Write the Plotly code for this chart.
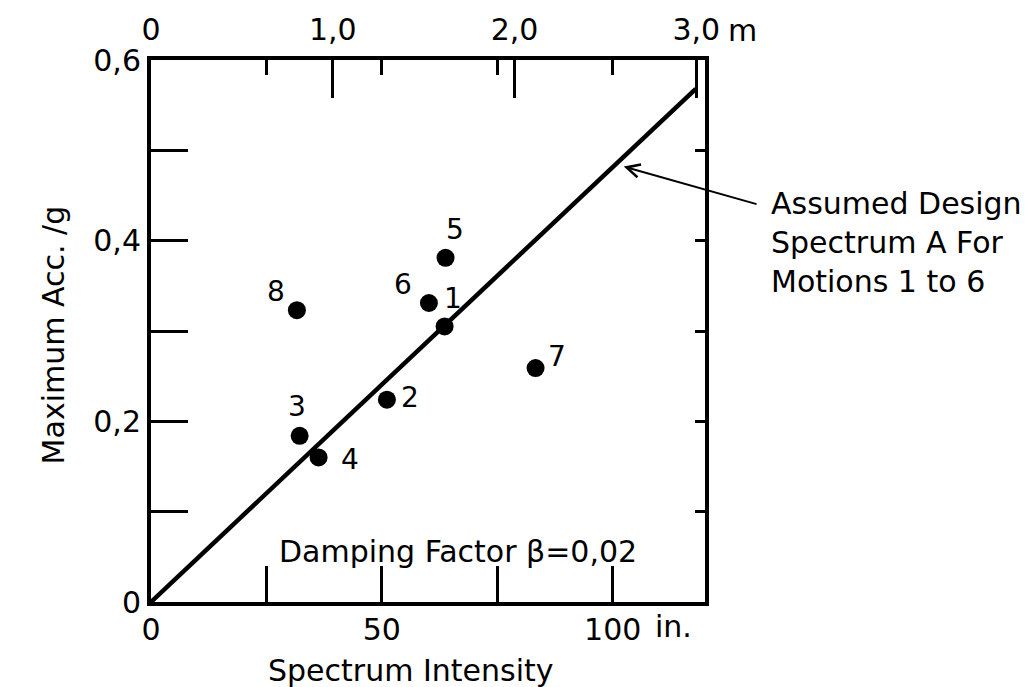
import plotly.graph_objects as go

# ---------------- data ----------------
motion_ids = ["1", "2", "3", "4", "5", "6", "7", "8"]
spectrum_intensity_in = [63.6, 51.1, 32.2, 36.3, 63.8, 60.2, 83.3, 31.6]
max_acc_g = [0.305, 0.224, 0.184, 0.160, 0.381, 0.331, 0.259, 0.323]

design_line_si = [0, 118]
design_line_acc = [0, 0.568]

x_ticks_in = [0, 25, 50, 75, 100]
x_tick_text = ["0", "", "50", "", "100"]
y_ticks = [0, 0.1, 0.2, 0.3, 0.4, 0.5, 0.6]
y_tick_text = ["0", "", "0,2", "", "0,4", "", "0,6"]
top_ticks_m = [0, 1, 2, 3]
top_tick_text = ["0", "1,0", "2,0", "3,0"]

IN_PER_M = 39.37
X_MAX_IN = 120
Y_MAX = 0.6

# label offsets (px) for the motion numbers
label_dx = [8, 23, -3, 31, 9, -26, 21, -21]
label_dy = [28, 2, 29, -2, 28, 19, 12, 19]

FONT = "DejaVu Sans"
FS = 30
FS_LBL = 28
BLACK = "#000000"

fig = go.Figure()

fig.add_trace(go.Scatter(
    x=design_line_si, y=design_line_acc, mode="lines",
    line=dict(color=BLACK, width=4.5), showlegend=False, hoverinfo="skip"))

fig.add_trace(go.Scatter(
    x=spectrum_intensity_in, y=max_acc_g, mode="markers",
    marker=dict(color=BLACK, size=18, line=dict(width=0)),
    showlegend=False))

# invisible trace to activate top/right axes
fig.add_trace(go.Scatter(
    x=[None], y=[None], xaxis="x2", yaxis="y2", mode="markers",
    showlegend=False, hoverinfo="skip"))

for mid, xv, yv, dx, dy in zip(motion_ids, spectrum_intensity_in, max_acc_g, label_dx, label_dy):
    fig.add_annotation(x=xv, y=yv, xref="x", yref="y", text=mid, showarrow=False,
                       xshift=dx, yshift=dy, font=dict(family=FONT, size=FS_LBL, color=BLACK))

# arrow to design line
fig.add_annotation(x=102.4, y=0.482, xref="x", yref="y", ax=131.5, ay=0.44,
                   axref="x", ayref="y", text="", showarrow=True, arrowhead=5,
                   arrowsize=1.3, arrowwidth=2, arrowcolor=BLACK)

fig.add_annotation(x=1.1155, y=0.663, xref="paper", yref="paper", xanchor="left", yanchor="middle",
                   align="left", showarrow=False,
                   text="Assumed Design<br>Spectrum A For<br>Motions 1 to 6",
                   font=dict(family=FONT, size=FS, color=BLACK))

fig.add_annotation(x=66.4, y=0.056, xref="x", yref="y", showarrow=False,
                   text="Damping Factor \u03b2=0,02",
                   font=dict(family=FONT, size=FS, color=BLACK))

fig.add_annotation(x=56.2, y=-0.127, xref="x", yref="paper", showarrow=False,
                   text="Spectrum Intensity", yanchor="middle",
                   font=dict(family=FONT, size=FS, color=BLACK))

fig.add_annotation(x=-0.212, y=0.492, xref="paper", yref="paper", showarrow=False,
                   text="Maximum Acc. /g", textangle=-90,
                   font=dict(family=FONT, size=FS, color=BLACK))

# unit suffixes on tick labels
fig.add_annotation(x=100, y=0, xref="x", yref="paper", yanchor="top", xanchor="left",
                   xshift=40, yshift=-5, showarrow=False, text="in.",
                   font=dict(family=FONT, size=FS, color=BLACK))
fig.add_annotation(x=3 * IN_PER_M, y=1, xref="x", yref="paper", yanchor="bottom", xanchor="left",
                   xshift=30, yshift=10, showarrow=False, text="m",
                   font=dict(family=FONT, size=FS, color=BLACK))

axis_common = dict(showgrid=False, zeroline=False, showline=True, linecolor=BLACK,
                   linewidth=4, tickcolor=BLACK, tickwidth=3,
                   tickfont=dict(family=FONT, size=FS, color=BLACK))

fig.update_layout(
    width=1036, height=687,
    margin=dict(l=151, r=331, t=56, b=85),
    paper_bgcolor="white", plot_bgcolor="white",
    showlegend=False,
    xaxis=dict(range=[0, X_MAX_IN], tickmode="array", tickvals=x_ticks_in,
               ticktext=x_tick_text, ticks="inside", ticklen=36, side="bottom",
               anchor="y", ticklabelstandoff=-2, **axis_common),
    yaxis=dict(range=[0, Y_MAX], tickmode="array", tickvals=y_ticks,
               ticktext=y_tick_text, ticks="inside", ticklen=37, side="left",
               anchor="x", **axis_common),
    xaxis2=dict(range=[0, X_MAX_IN / IN_PER_M], overlaying="x", side="top", anchor="y2",
                tickmode="array", tickvals=top_ticks_m, ticktext=top_tick_text,
                ticks="inside", ticklen=38, ticklabelstandoff=4,
                minor=dict(tickmode="array",
                           tickvals=[v / IN_PER_M for v in x_ticks_in[1:]],
                           ticks="inside", ticklen=15, tickwidth=3, tickcolor=BLACK),
                **axis_common),
    yaxis2=dict(range=[0, Y_MAX], overlaying="y", side="right", anchor="x2",
                tickmode="array", tickvals=y_ticks, ticks="inside", ticklen=10,
                showticklabels=False, **axis_common),
)

fig.write_html("out.html")
